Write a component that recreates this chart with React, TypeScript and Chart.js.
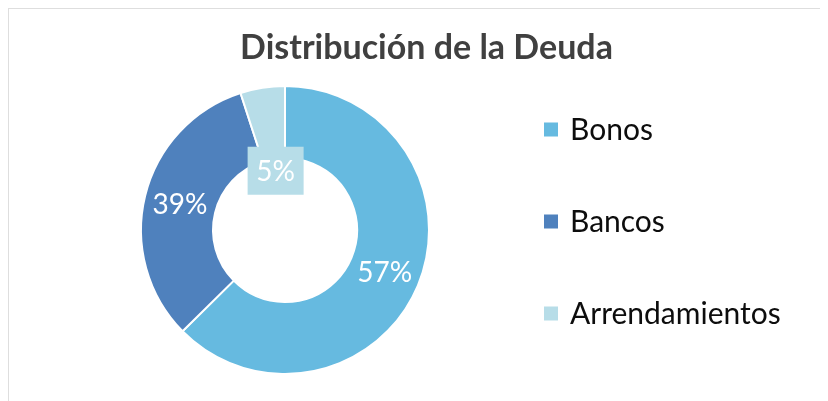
import React, { useEffect, useRef } from "react";
import { Chart, registerables } from "chart.js";

Chart.register(...registerables);

const categories = ["Bonos", "Bancos", "Arrendamientos"];
const sliceValues = [62.6, 32.4, 5.0];
const percentLabels = ["57%", "39%", "5%"];
const sliceColors = ["#66BAE0", "#4F81BD", "#B7DDE8"];
const chartTitle = "Distribución de la Deuda";

const FONT = "Lato, 'Open Sans', 'DejaVu Sans', sans-serif";

const titlePlugin = {
  id: "excelTitle",
  afterDraw(chart: any) {
    const ctx = chart.ctx;
    ctx.save();
    ctx.font = `bold 34px ${FONT}`;
    ctx.fillStyle = "#404040";
    ctx.textAlign = "center";
    ctx.textBaseline = "alphabetic";
    ctx.fillText(chartTitle, 417.5, 50);
    ctx.restore();
  },
};

const legendPlugin = {
  id: "excelLegend",
  afterDraw(chart: any) {
    const ctx = chart.ctx;
    const labels = chart.data.labels as string[];
    const colors = chart.data.datasets[0].backgroundColor as string[];
    const x0 = 535;
    const y0 = 120.5;
    const step = 92;
    const box = 14;
    ctx.save();
    ctx.font = `30px ${FONT}`;
    ctx.textAlign = "left";
    ctx.textBaseline = "middle";
    labels.forEach((lab, i) => {
      const cy = y0 + i * step;
      ctx.fillStyle = colors[i];
      ctx.fillRect(x0, cy - box / 2, box, box);
      ctx.fillStyle = "#0D0D0D";
      ctx.fillText(lab, x0 + 26, cy + 1);
    });
    ctx.restore();
  },
};

const valueLabelPlugin = {
  id: "valueLabels",
  afterDatasetsDraw(chart: any) {
    const ctx = chart.ctx;
    const meta = chart.getDatasetMeta(0);
    const colors = chart.data.datasets[0].backgroundColor as string[];
    ctx.save();
    ctx.font = `28px ${FONT}`;
    ctx.textAlign = "center";
    ctx.textBaseline = "middle";
    meta.data.forEach((arc: any, i: number) => {
      const p = arc.getProps(["x", "y", "startAngle", "endAngle", "innerRadius", "outerRadius"], true);
      const mid = (p.startAngle + p.endAngle) / 2;
      const span = p.endAngle - p.startAngle;
      const small = span < 0.5;
      const r = small ? p.innerRadius - 12 : (p.innerRadius + p.outerRadius) / 2;
      const tx = p.x + Math.cos(mid) * r;
      const ty = p.y + Math.sin(mid) * r;
      if (small) {
        ctx.fillStyle = colors[i];
        ctx.fillRect(tx - 28, ty - 24, 56, 48);
      }
      ctx.fillStyle = "#FFFFFF";
      ctx.fillText(percentLabels[i], tx, ty + 1);
    });
    ctx.restore();
  },
};

export default function App() {
  const canvasRef = useRef<HTMLCanvasElement | null>(null);

  useEffect(() => {
    if (!canvasRef.current) return;
    const chart = new Chart(canvasRef.current, {
      type: "doughnut",
      data: {
        labels: categories,
        datasets: [
          {
            data: sliceValues,
            backgroundColor: sliceColors,
            borderColor: "#FFFFFF",
            borderWidth: 2,
          },
        ],
      },
      options: {
        animation: false,
        responsive: false,
        maintainAspectRatio: false,
        cutout: "50%",
        layout: {
          padding: { left: 131, right: 398, top: 76, bottom: 26 },
        },
        plugins: {
          legend: { display: false },
          title: { display: false },
          tooltip: { enabled: false },
        },
      },
      plugins: [titlePlugin, legendPlugin, valueLabelPlugin],
    });
    return () => chart.destroy();
  }, []);

  return (
    <div
      style={{
        marginLeft: -1,
        marginTop: -1,
        borderTop: "2px solid #DEDEDE",
        borderLeft: "2px solid #DEDEDE",
        width: 819,
        height: 392,
        background: "#FFFFFF",
      }}
    >
      <canvas ref={canvasRef} width={819} height={392} style={{ display: "block" }} />
    </div>
  );
}
